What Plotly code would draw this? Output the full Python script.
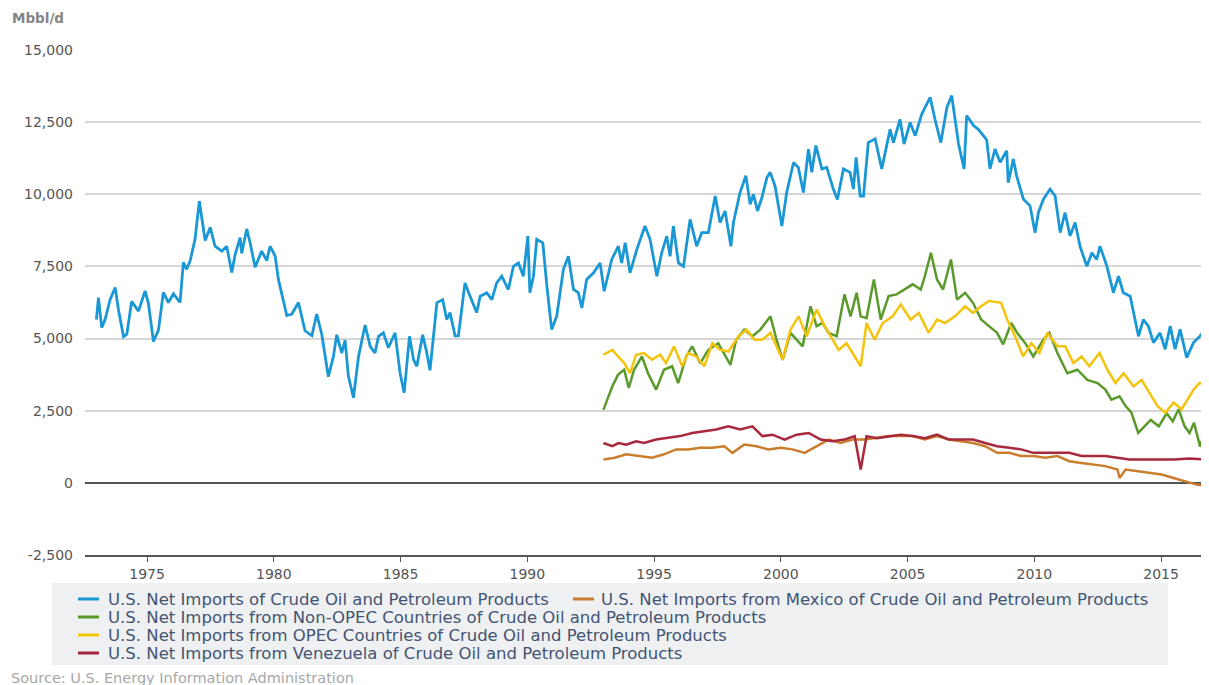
import plotly.graph_objects as go

# ---------------- data ----------------
total_years = [
    1973.00, 1973.08, 1973.21, 1973.34, 1973.54, 1973.74, 1973.87, 1974.07, 1974.20, 1974.39,
    1974.66, 1974.92, 1975.05, 1975.25, 1975.45, 1975.64, 1975.84, 1976.04, 1976.30, 1976.43,
    1976.56, 1976.70, 1976.89, 1977.06, 1977.29, 1977.49, 1977.68, 1977.95, 1978.14, 1978.34,
    1978.47, 1978.67, 1978.73, 1978.93, 1979.06, 1979.26, 1979.52, 1979.72, 1979.85, 1980.05,
    1980.18, 1980.38, 1980.51, 1980.71, 1980.97, 1981.23, 1981.50, 1981.69, 1981.89, 1982.15,
    1982.35, 1982.48, 1982.68, 1982.81, 1982.94, 1983.14, 1983.34, 1983.60, 1983.80, 1983.99,
    1984.13, 1984.32, 1984.52, 1984.78, 1984.98, 1985.14, 1985.35, 1985.51, 1985.64, 1985.87,
    1986.01, 1986.16, 1986.43, 1986.66, 1986.82, 1986.95, 1987.15, 1987.28, 1987.54, 1987.74,
    1988.00, 1988.14, 1988.40, 1988.60, 1988.79, 1988.99, 1989.25, 1989.45, 1989.65, 1989.84,
    1990.02, 1990.10, 1990.24, 1990.37, 1990.61, 1990.77, 1990.96, 1991.16, 1991.42, 1991.62,
    1991.82, 1992.01, 1992.15, 1992.34, 1992.61, 1992.87, 1993.03, 1993.33, 1993.59, 1993.72,
    1993.86, 1994.05, 1994.32, 1994.64, 1994.84, 1995.11, 1995.30, 1995.50, 1995.63, 1995.76,
    1995.96, 1996.16, 1996.42, 1996.68, 1996.88, 1997.14, 1997.41, 1997.60, 1997.80, 1998.03,
    1998.13, 1998.39, 1998.62, 1998.79, 1998.92, 1999.08, 1999.25, 1999.45, 1999.58, 1999.77,
    2000.04, 2000.23, 2000.50, 2000.69, 2000.89, 2001.09, 2001.22, 2001.38, 2001.62, 2001.81,
    2001.94, 2002.07, 2002.23, 2002.47, 2002.73, 2002.86, 2002.97, 2003.13, 2003.26, 2003.45,
    2003.72, 2003.98, 2004.31, 2004.44, 2004.70, 2004.86, 2005.10, 2005.30, 2005.56, 2005.89,
    2006.08, 2006.31, 2006.55, 2006.74, 2007.01, 2007.23, 2007.33, 2007.60, 2007.79, 2008.12,
    2008.25, 2008.45, 2008.65, 2008.91, 2008.97, 2009.17, 2009.30, 2009.57, 2009.83, 2010.03,
    2010.16, 2010.36, 2010.62, 2010.82, 2011.02, 2011.21, 2011.41, 2011.61, 2011.80, 2012.07,
    2012.27, 2012.46, 2012.59, 2012.86, 2013.12, 2013.32, 2013.51, 2013.78, 2014.11, 2014.30,
    2014.50, 2014.70, 2014.96, 2015.16, 2015.36, 2015.55, 2015.75, 2016.01, 2016.28, 2016.54,
    2016.80,
]
total_values = [
    5660, 6420, 5380, 5660, 6350, 6770, 6000, 5070, 5150, 6290,
    5950, 6650, 6230, 4900, 5300, 6600, 6250, 6550, 6250, 7640,
    7400, 7700, 8440, 9760, 8400, 8850, 8200, 8030, 8200, 7290,
    7900, 8500, 7950, 8800, 8330, 7470, 8030, 7700, 8200, 7860,
    7050, 6250, 5800, 5850, 6250, 5270, 5100, 5850, 5150, 3680,
    4380, 5130, 4500, 4950, 3700, 2950, 4380, 5470, 4730, 4500,
    5080, 5200, 4680, 5200, 3800, 3120, 5080, 4270, 4040, 5130,
    4600, 3900, 6240, 6350, 5660, 5900, 5090, 5090, 6930, 6470,
    5900, 6470, 6590, 6350, 6930, 7160, 6700, 7500, 7620, 7160,
    8550, 6590, 7160, 8440, 8320, 6820, 5310, 5780, 7390, 7850,
    6700, 6590, 6060, 7050, 7280, 7620, 6640, 7740, 8200, 7620,
    8320, 7280, 8090, 8900, 8440, 7160, 7970, 8550, 7850, 8900,
    7620, 7500, 9130, 8200, 8670, 8670, 9940, 9020, 9420, 8200,
    9020, 10060, 10640, 9650, 10000, 9420, 9880, 10580, 10760, 10290,
    8900, 10060, 11100, 10930, 10060, 11560, 10760, 11690, 10880, 10930,
    10530, 10180, 9820, 10880, 10760, 10180, 11280, 9940, 9940, 11790,
    11920, 10880, 12250, 11790, 12600, 11740, 12490, 12030, 12780, 13360,
    12600, 11790, 13010, 13420, 11740, 10880, 12730, 12380, 12250, 11890,
    10880, 11570, 11110, 11510, 10400, 11220, 10640, 9830, 9600, 8670,
    9370, 9830, 10180, 9940, 8670, 9370, 8560, 9020, 8200, 7510,
    7970, 7740, 8200, 7510, 6590, 7160, 6590, 6470, 5080, 5660,
    5430, 4860, 5200, 4630, 5430, 4630, 5320, 4340, 4860, 5090,
    5380,
]

mexico_years = [
    1993.00, 1993.45, 1993.90, 1994.44, 1994.92, 1995.39, 1995.87, 1996.34, 1996.82, 1997.30,
    1997.77, 1998.09, 1998.56, 1999.04, 1999.51, 1999.99, 2000.46, 2000.94, 2001.41, 2001.88,
    2002.36, 2002.83, 2003.30, 2003.78, 2004.25, 2004.73, 2005.20, 2005.68, 2006.16, 2006.63,
    2007.11, 2007.58, 2008.06, 2008.53, 2009.01, 2009.48, 2009.96, 2010.43, 2010.91, 2011.38,
    2011.86, 2012.33, 2012.80, 2013.28, 2013.36, 2013.60, 2014.07, 2014.54, 2015.02, 2015.49,
    2015.96, 2016.40, 2016.80,
]
mexico_values = [
    810, 870, 990, 930, 870, 990, 1160, 1160, 1220, 1220,
    1270, 1040, 1330, 1270, 1160, 1220, 1160, 1040, 1270, 1500,
    1380, 1500, 1500, 1550, 1620, 1620, 1620, 1500, 1620, 1500,
    1440, 1380, 1270, 1040, 1040, 930, 930, 870, 930, 750,
    690, 640, 580, 460, 170, 460, 400, 350, 290, 170,
    60, -60, -120,
]

nonopec_years = [
    1993.00, 1993.35, 1993.58, 1993.82, 1994.00, 1994.21, 1994.52, 1994.76, 1995.08, 1995.39,
    1995.71, 1995.95, 1996.27, 1996.50, 1996.82, 1997.14, 1997.53, 1998.01, 1998.24, 1998.56,
    1998.88, 1999.19, 1999.59, 1999.83, 2000.07, 2000.38, 2000.86, 2001.17, 2001.41, 2001.65,
    2001.88, 2002.20, 2002.51, 2002.75, 2002.99, 2003.15, 2003.38, 2003.67, 2003.94, 2004.25,
    2004.57, 2004.89, 2005.20, 2005.52, 2005.68, 2005.92, 2006.16, 2006.40, 2006.71, 2006.95,
    2007.27, 2007.58, 2007.90, 2008.21, 2008.53, 2008.77, 2009.09, 2009.32, 2009.64, 2009.96,
    2010.35, 2010.59, 2010.91, 2011.30, 2011.70, 2012.09, 2012.49, 2012.80, 2013.04, 2013.36,
    2013.60, 2013.83, 2014.10, 2014.59, 2014.91, 2015.22, 2015.46, 2015.69, 2015.93, 2016.12,
    2016.30, 2016.54, 2016.80,
]
nonopec_values = [
    2530, 3340, 3750, 3920, 3290, 3920, 4380, 3800, 3230, 3920,
    4040, 3460, 4380, 4730, 4150, 4610, 4840, 4090, 4960, 5310,
    5080, 5310, 5770, 4960, 4260, 5200, 4730, 6120, 5430, 5540,
    5200, 5080, 6530, 5770, 6590, 5770, 5710, 7050, 5660, 6470,
    6530, 6700, 6880, 6700, 7160, 7970, 7050, 6700, 7740, 6350,
    6590, 6240, 5660, 5430, 5200, 4800, 5540, 5200, 4840, 4380,
    4960, 5200, 4500, 3800, 3920, 3570, 3460, 3230, 2880, 3000,
    2660, 2430, 1730, 2180, 1960, 2410, 2130, 2550, 1960, 1730,
    2080, 1250, 2080,
]

opec_years = [
    1993.00, 1993.35, 1993.58, 1993.82, 1994.05, 1994.29, 1994.60, 1994.92, 1995.24, 1995.47,
    1995.79, 1996.11, 1996.34, 1996.66, 1996.98, 1997.30, 1997.61, 1997.93, 1998.33, 1998.64,
    1998.96, 1999.27, 1999.59, 2000.07, 2000.38, 2000.70, 2001.02, 2001.41, 2001.73, 2002.04,
    2002.28, 2002.59, 2002.91, 2003.15, 2003.38, 2003.70, 2004.02, 2004.41, 2004.73, 2005.12,
    2005.44, 2005.83, 2006.16, 2006.47, 2006.87, 2007.27, 2007.58, 2007.90, 2008.21, 2008.69,
    2008.93, 2009.24, 2009.56, 2009.88, 2010.20, 2010.51, 2010.91, 2011.22, 2011.54, 2011.86,
    2012.17, 2012.57, 2012.88, 2013.20, 2013.52, 2013.91, 2014.23, 2014.54, 2014.86, 2015.17,
    2015.49, 2015.81, 2016.04, 2016.28, 2016.52, 2016.80,
]
opec_values = [
    4440, 4610, 4380, 4150, 3800, 4440, 4500, 4270, 4440, 4150,
    4730, 4040, 4500, 4380, 4040, 4840, 4610, 4550, 5080, 5310,
    4960, 4960, 5200, 4270, 5310, 5770, 5080, 6010, 5430, 4960,
    4610, 4840, 4380, 4040, 5540, 4960, 5540, 5770, 6180, 5660,
    5890, 5200, 5660, 5540, 5770, 6120, 5890, 6120, 6300, 6240,
    5660, 5080, 4380, 4840, 4500, 5200, 4730, 4730, 4150, 4380,
    4040, 4500, 3920, 3460, 3800, 3340, 3570, 3110, 2660, 2430,
    2780, 2550, 2880, 3230, 3460, 3400,
]

venezuela_years = [
    1993.00, 1993.35, 1993.60, 1993.90, 1994.29, 1994.60, 1995.08, 1995.55, 1996.03, 1996.50,
    1996.98, 1997.45, 1997.93, 1998.40, 1998.88, 1999.27, 1999.67, 2000.15, 2000.62, 2001.10,
    2001.57, 2002.04, 2002.51, 2002.91, 2003.15, 2003.38, 2003.78, 2004.25, 2004.73, 2005.20,
    2005.68, 2006.16, 2006.63, 2007.11, 2007.58, 2008.06, 2008.53, 2009.01, 2009.48, 2009.96,
    2010.43, 2010.91, 2011.38, 2011.86, 2012.33, 2012.80, 2013.28, 2013.75, 2014.23, 2014.86,
    2015.49, 2016.12, 2016.80,
]
venezuela_values = [
    1380, 1270, 1380, 1320, 1440, 1380, 1500, 1550, 1620, 1730,
    1790, 1850, 1960, 1850, 1960, 1620, 1670, 1500, 1670, 1730,
    1500, 1440, 1500, 1620, 460, 1620, 1550, 1620, 1670, 1620,
    1550, 1670, 1500, 1500, 1500, 1380, 1270, 1220, 1160, 1040,
    1040, 1040, 1040, 930, 930, 930, 870, 810, 810, 810,
    810, 840, 810,
]

series_names = [
    "U.S. Net Imports of Crude Oil and Petroleum Products",
    "U.S. Net Imports from Mexico of Crude Oil and Petroleum Products",
    "U.S. Net Imports from Non-OPEC Countries of Crude Oil and Petroleum Products",
    "U.S. Net Imports from OPEC Countries of Crude Oil and Petroleum Products",
    "U.S. Net Imports from Venezuela of Crude Oil and Petroleum Products",
]
x_tick_values = [1975, 1980, 1985, 1990, 1995, 2000, 2005, 2010, 2015]
y_tick_values = [-2500, 0, 2500, 5000, 7500, 10000, 12500, 15000]
y_tick_labels = ["-2,500", "0", "2,500", "5,000", "7,500", "10,000", "12,500", "15,000"]

# ---------------- styling / layout ----------------
colors = ["#1a97d5", "#c97d2e", "#5a9a2b", "#f4c30c", "#a8283c"]
FONT = "DejaVu Sans, Liberation Sans, Arial, sans-serif"

# the page body adds an 8px offset; figure coordinates = screen coordinates - 8
OFF = 8
W, H = 1209 - OFF, 685 - OFF
M_L, M_R, M_T = 85 - OFF, 0, 50 - OFF
M_B = H - (555 - OFF)
PW, PH = W - M_L - M_R, H - M_T - M_B


def px_x(px):
    # screen x pixel of the reference -> paper x
    return (px - OFF - M_L) / PW


def px_y(py):
    # screen y pixel of the reference -> paper y
    return (H - M_B - (py - OFF)) / PH


fig = go.Figure()
all_series = [
    (total_years, total_values),
    (mexico_years, mexico_values),
    (nonopec_years, nonopec_values),
    (opec_years, opec_values),
    (venezuela_years, venezuela_values),
]
widths = [2.8, 2.5, 2.5, 2.5, 2.5]
for (xs, ys), name, col, lw in zip(all_series, series_names, colors, widths):
    fig.add_trace(go.Scatter(
        x=xs, y=ys, mode="lines", name=name,
        line=dict(color=col, width=lw),
        showlegend=False,
    ))

# legend drawn as a box with line keys and text entries (layout: 2 + 1 + 1 + 1)
legend_slots = [(599, 78, 106), (599, 573, 599), (617, 78, 106), (635, 78, 106), (653, 78, 106)]
shapes = [dict(type="rect", xref="paper", yref="paper",
               x0=px_x(52), x1=px_x(1168), y0=px_y(665), y1=px_y(583),
               fillcolor="#eef0f2", line=dict(width=0), layer="below")]
annotations = []
for (row_y, key_x, text_x), name, col in zip(legend_slots, series_names, colors):
    shapes.append(dict(type="line", xref="paper", yref="paper",
                       x0=px_x(key_x), x1=px_x(key_x + 21), y0=px_y(row_y), y1=px_y(row_y),
                       line=dict(color=col, width=3)))
    annotations.append(dict(text=name, xref="paper", yref="paper",
                            x=px_x(text_x), y=px_y(row_y), xanchor="left", yanchor="middle",
                            showarrow=False,
                            font=dict(family=FONT, size=16.5, color="#435472")))

annotations.append(dict(text="<b>Mbbl/d</b>", xref="paper", yref="paper",
                        x=px_x(10), y=px_y(18), xanchor="left", yanchor="middle",
                        showarrow=False, font=dict(family=FONT, size=13.5, color="#858585")))
annotations.append(dict(text="Source: U.S. Energy Information Administration", xref="paper", yref="paper",
                        x=px_x(9), y=px_y(678), xanchor="left", yanchor="middle",
                        showarrow=False, font=dict(family=FONT, size=14.5, color="#a8a8a8")))

fig.update_layout(
    width=W, height=H,
    margin=dict(l=M_L, r=M_R, t=M_T, b=M_B, autoexpand=False),
    paper_bgcolor="white", plot_bgcolor="white",
    font=dict(family=FONT, color="#555555", size=14),
    showlegend=False,
    xaxis=dict(
        range=[1972.55, 2016.89],
        tickmode="array", tickvals=x_tick_values,
        ticks="outside", ticklen=5, tickcolor="#555555",
        showline=True, linecolor="#555555", linewidth=2,
        showgrid=False, zeroline=False,
        tickfont=dict(family=FONT, size=14, color="#555555"),
        fixedrange=True,
    ),
    yaxis=dict(
        range=[-2500, 15000],
        tickmode="array", tickvals=y_tick_values, ticktext=y_tick_labels,
        showgrid=True, gridcolor="#d6d6d6", gridwidth=1.5,
        zeroline=True, zerolinecolor="#555555", zerolinewidth=2,
        showline=False, ticks="",
        ticklabelstandoff=11,
        tickfont=dict(family=FONT, size=14, color="#555555"),
        fixedrange=True,
    ),
    shapes=shapes,
    annotations=annotations,
)

fig.write_html("out.html")
